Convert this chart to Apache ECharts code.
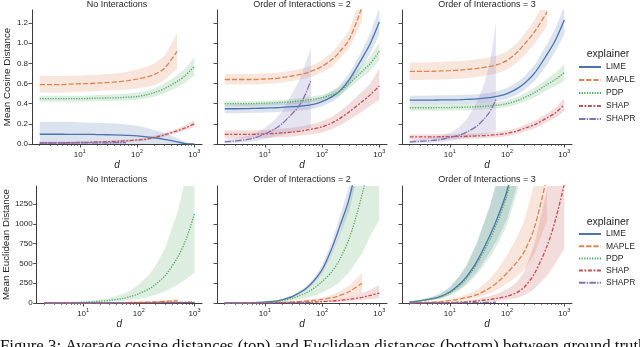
<!DOCTYPE html>
<html><head><meta charset="utf-8">
<script src="https://cdn.jsdelivr.net/npm/echarts@6/dist/echarts.min.js"></script>
<style>html,body{margin:0;padding:0;background:#fff}#c{width:640px;height:347px}</style>
</head><body><div id="c"></div>
<script>
// ---------- data ----------
const explainers = ['LIME', 'MAPLE', 'PDP', 'SHAP', 'SHAPR'];
const panelTitles = ['No Interactions', 'Order of Interactions = 2', 'Order of Interactions = 3'];
const dFull  = [2, 3, 5, 7, 10, 15, 20, 30, 50, 70, 100, 150, 200, 300, 500, 700, 1000];
const dMaple = [2, 3, 5, 7, 10, 15, 20, 30, 50, 70, 100, 150, 200, 300, 500];
const dShapr = [2, 3, 5, 7, 10, 15, 20, 30, 40, 50, 64];
const xMajorTicks = [10, 100, 1000];
const xMinorTicks = [2,3,4,5,6,7,8,9,20,30,40,50,60,70,80,90,200,300,400,500,600,700,800,900];
const cosTicks = [0, 0.2, 0.4, 0.6, 0.8, 1.0, 1.2];
const eucTicks = [0, 250, 500, 750, 1000, 1250];

// Cosine, No Interactions
const c1_LIME    = [0.097,0.097,0.097,0.096,0.096,0.095,0.094,0.092,0.088,0.085,0.08,0.071,0.062,0.046,0.022,0.004,0.0];
const c1_LIME_lo = [0,0,0,0,0,0,0,0,0,0,0,0,0,0,0,0,0];
const c1_LIME_hi = [0.22,0.22,0.22,0.22,0.215,0.21,0.21,0.205,0.2,0.19,0.18,0.16,0.14,0.11,0.06,0.02,0.0];
const c1_MAPLE    = [0.59,0.59,0.59,0.595,0.598,0.6,0.605,0.61,0.62,0.63,0.645,0.665,0.69,0.75,0.92];
const c1_MAPLE_lo = [0.51,0.51,0.51,0.515,0.518,0.52,0.525,0.53,0.535,0.54,0.55,0.565,0.58,0.63,0.75];
const c1_MAPLE_hi = [0.675,0.675,0.675,0.68,0.68,0.685,0.69,0.695,0.705,0.72,0.74,0.77,0.8,0.87,1.1];
const c1_PDP    = [0.45,0.45,0.45,0.45,0.45,0.452,0.455,0.457,0.46,0.465,0.47,0.49,0.51,0.55,0.62,0.68,0.77];
const c1_PDP_lo = [0.42,0.42,0.42,0.42,0.42,0.422,0.424,0.427,0.43,0.435,0.44,0.455,0.47,0.5,0.56,0.61,0.68];
const c1_PDP_hi = [0.48,0.48,0.48,0.48,0.48,0.482,0.486,0.49,0.495,0.5,0.51,0.525,0.55,0.6,0.68,0.75,0.86];
const c1_SHAP    = [0.01,0.01,0.012,0.013,0.015,0.017,0.02,0.023,0.028,0.033,0.04,0.05,0.065,0.09,0.13,0.16,0.2];
const c1_SHAP_lo = [0.002,0.002,0.004,0.005,0.006,0.008,0.01,0.013,0.017,0.021,0.027,0.036,0.049,0.072,0.108,0.135,0.17];
const c1_SHAP_hi = [0.018,0.018,0.02,0.021,0.024,0.026,0.03,0.033,0.039,0.045,0.053,0.064,0.081,0.108,0.152,0.185,0.235];
const c1_SHAPR    = [0.01,0.01,0.01,0.01,0.011,0.011,0.012,0.012,0.013,0.013,0.014];
const c1_SHAPR_lo = [0,0,0,0,0,0,0,0,0,0,0];
const c1_SHAPR_hi = [0.025,0.025,0.025,0.025,0.026,0.026,0.027,0.027,0.028,0.028,0.03];

// Cosine, Order 2
const c2_LIME    = [0.35,0.35,0.352,0.354,0.356,0.36,0.364,0.37,0.38,0.393,0.42,0.47,0.52,0.64,0.85,1.0,1.21];
const c2_LIME_lo = [0.305,0.305,0.307,0.31,0.312,0.316,0.32,0.326,0.336,0.35,0.375,0.42,0.47,0.58,0.77,0.9,1.09];
const c2_LIME_hi = [0.395,0.395,0.397,0.4,0.402,0.406,0.41,0.416,0.426,0.44,0.467,0.52,0.575,0.7,0.93,1.1,1.35];
const c2_MAPLE    = [0.64,0.64,0.64,0.64,0.645,0.65,0.66,0.675,0.7,0.73,0.77,0.84,0.91,1.04,1.36];
const c2_MAPLE_lo = [0.59,0.59,0.59,0.59,0.595,0.6,0.61,0.625,0.65,0.675,0.71,0.77,0.84,0.95,1.22];
const c2_MAPLE_hi = [0.695,0.695,0.695,0.695,0.7,0.705,0.715,0.73,0.755,0.785,0.83,0.91,0.99,1.13,1.5];
const c2_PDP    = [0.4,0.4,0.4,0.402,0.405,0.41,0.413,0.42,0.435,0.445,0.46,0.49,0.52,0.6,0.72,0.8,0.92];
const c2_PDP_lo = [0.375,0.375,0.375,0.377,0.38,0.385,0.388,0.394,0.408,0.417,0.43,0.455,0.483,0.55,0.66,0.73,0.83];
const c2_PDP_hi = [0.425,0.425,0.425,0.427,0.43,0.435,0.438,0.446,0.462,0.473,0.49,0.525,0.56,0.65,0.78,0.87,1.01];
const c2_SHAP    = [0.095,0.095,0.096,0.097,0.1,0.105,0.11,0.118,0.135,0.15,0.17,0.21,0.25,0.32,0.42,0.49,0.575];
const c2_SHAP_lo = [0.055,0.055,0.056,0.057,0.06,0.064,0.068,0.075,0.09,0.1,0.115,0.15,0.18,0.24,0.32,0.38,0.44];
const c2_SHAP_hi = [0.135,0.135,0.136,0.137,0.14,0.146,0.152,0.162,0.18,0.2,0.225,0.27,0.32,0.4,0.52,0.6,0.75];
const c2_SHAPR    = [0.022,0.03,0.045,0.065,0.1,0.15,0.2,0.3,0.38,0.48,0.63];
const c2_SHAPR_lo = [0.005,0.01,0.02,0.03,0.05,0.075,0.09,0.12,0.14,0.15,0.16];
const c2_SHAPR_hi = [0.04,0.055,0.08,0.11,0.16,0.24,0.32,0.5,0.63,0.78,0.95];

// Cosine, Order 3
const c3_LIME    = [0.435,0.435,0.436,0.437,0.438,0.44,0.443,0.448,0.46,0.475,0.5,0.55,0.6,0.7,0.89,1.03,1.23];
const c3_LIME_lo = [0.39,0.39,0.39,0.392,0.393,0.395,0.398,0.403,0.413,0.427,0.45,0.49,0.535,0.62,0.79,0.92,1.09];
const c3_LIME_hi = [0.48,0.48,0.482,0.483,0.484,0.486,0.49,0.495,0.508,0.525,0.555,0.61,0.67,0.78,0.99,1.15,1.37];
const c3_MAPLE    = [0.72,0.72,0.722,0.725,0.728,0.733,0.74,0.75,0.77,0.79,0.83,0.91,0.99,1.11,1.31];
const c3_MAPLE_lo = [0.635,0.635,0.637,0.64,0.643,0.648,0.655,0.665,0.685,0.705,0.74,0.81,0.88,0.99,1.17];
const c3_MAPLE_hi = [0.81,0.81,0.812,0.815,0.818,0.823,0.83,0.84,0.86,0.88,0.92,1.0,1.09,1.23,1.45];
const c3_PDP    = [0.36,0.36,0.36,0.361,0.362,0.364,0.366,0.37,0.378,0.386,0.4,0.43,0.46,0.51,0.59,0.64,0.71];
const c3_PDP_lo = [0.33,0.33,0.33,0.331,0.332,0.334,0.336,0.34,0.347,0.355,0.368,0.395,0.42,0.465,0.535,0.575,0.625];
const c3_PDP_hi = [0.39,0.39,0.39,0.391,0.392,0.394,0.396,0.4,0.41,0.418,0.433,0.465,0.5,0.555,0.645,0.705,0.795];
const c3_SHAP    = [0.07,0.07,0.071,0.072,0.073,0.075,0.077,0.08,0.087,0.094,0.105,0.13,0.155,0.19,0.26,0.31,0.39];
const c3_SHAP_lo = [0.045,0.045,0.046,0.047,0.048,0.05,0.052,0.055,0.061,0.067,0.077,0.1,0.122,0.155,0.215,0.26,0.325];
const c3_SHAP_hi = [0.095,0.095,0.096,0.097,0.098,0.1,0.102,0.105,0.113,0.121,0.133,0.16,0.188,0.225,0.305,0.36,0.455];
const c3_SHAPR    = [0.022,0.027,0.035,0.045,0.065,0.09,0.12,0.18,0.25,0.32,0.44];
const c3_SHAPR_lo = [0.005,0.008,0.012,0.02,0.03,0.045,0.06,0.08,0.1,0.11,0.13];
const c3_SHAPR_hi = [0.04,0.05,0.065,0.08,0.11,0.17,0.25,0.42,0.6,0.8,1.2];

// Euclidean, No Interactions
const e1_LIME    = [0.1,0.15,0.2,0.3,0.4,0.5,0.6,0.8,1,1.2,1.5,1.8,2,2.5,3,3.5,4];
const e1_LIME_lo = [0.05,0.07,0.1,0.15,0.2,0.25,0.3,0.4,0.5,0.6,0.7,0.9,1,1.2,1.5,1.7,2];
const e1_LIME_hi = [0.2,0.3,0.4,0.6,0.8,1,1.2,1.6,2,2.4,3,3.6,4,5,6,7,8];
const e1_MAPLE    = [0.2,0.3,0.5,0.7,1,1.5,2,3,4.5,6,8,11,14,20,28];
const e1_MAPLE_lo = [0.1,0.15,0.25,0.35,0.5,0.8,1,1.5,2.2,3,4,5.5,7,10,14];
const e1_MAPLE_hi = [0.4,0.6,1,1.4,2,3,4,6,9,12,16,22,28,38,55];
const e1_PDP    = [1.5,2.5,4.5,6.5,10,16,22,33,56,80,118,175,235,350,580,800,1130];
const e1_PDP_lo = [0.8,1.3,2.3,3.3,5,8,11,16,27,38,55,80,105,150,230,300,380];
const e1_PDP_hi = [3,5,9,13,20,31,43,65,110,158,235,350,470,700,1160,1600,2300];
const e1_SHAP    = [0.1,0.15,0.25,0.35,0.5,0.7,0.9,1.3,2,2.7,3.5,4.8,5.8,7,8.5,9.5,11];
const e1_SHAP_lo = [0.07,0.1,0.17,0.25,0.35,0.5,0.6,0.9,1.4,1.9,2.5,3.4,4,5,6,6.6,7.7];
const e1_SHAP_hi = [0.14,0.21,0.35,0.5,0.7,1,1.3,1.8,2.8,3.8,4.9,6.7,8.1,9.8,12,13.3,15.4];
const e1_SHAPR    = [0.05,0.07,0.1,0.14,0.2,0.3,0.4,0.6,0.8,1,1.2];
const e1_SHAPR_lo = [0.02,0.03,0.05,0.07,0.1,0.15,0.2,0.3,0.4,0.5,0.6];
const e1_SHAPR_hi = [0.1,0.14,0.2,0.28,0.4,0.6,0.8,1.2,1.6,2,2.4];

// Euclidean, Order 2
const e2_LIME    = [1,2,4,7,12,22,40,80,170,270,420,700,950,1330,2100,2900,4000];
const e2_LIME_lo = [0.8,1.7,3.4,6,10.5,19,35,70,150,238,370,615,835,1170,1850,2550,3500];
const e2_LIME_hi = [1.2,2.3,4.6,8,13.5,25,45,90,190,302,470,785,1065,1490,2350,3250,4500];
const e2_MAPLE    = [0.5,0.8,1.5,2.2,3.5,6,9,14,24,33,45,68,92,145,250];
const e2_MAPLE_lo = [0.25,0.4,0.75,1.1,1.8,3,4.5,7,12,17,23,35,47,74,126];
const e2_MAPLE_hi = [0.8,1.3,2.4,3.5,5.6,9.5,14,22,37,51,70,105,142,222,380];
const e2_PDP    = [1,2,3.5,5.5,10,18,30,60,120,180,270,400,540,820,1370,1900,2700];
const e2_PDP_lo = [0.5,1,1.8,2.8,5,9,15,30,60,88,130,195,260,390,630,850,1050];
const e2_PDP_hi = [1.6,3.2,5.6,8.8,16,29,48,96,192,288,430,640,865,1310,2190,3040,4320];
const e2_SHAP    = [0.3,0.5,0.8,1.2,1.8,2.8,3.8,5.5,9,12,17,25,32,46,72,95,125];
const e2_SHAP_lo = [0.15,0.25,0.4,0.6,0.9,1.4,1.9,2.8,4.5,6,8.5,12.5,16,23,37,49,63];
const e2_SHAP_hi = [0.5,0.8,1.3,1.9,2.9,4.5,6.1,8.8,14.5,19.5,28,41,53,77,125,168,227];
const e2_SHAPR    = [0.1,0.15,0.25,0.35,0.5,0.75,1,1.5,2,2.5,3];
const e2_SHAPR_lo = [0.05,0.07,0.12,0.17,0.25,0.37,0.5,0.75,1,1.2,1.5];
const e2_SHAPR_hi = [0.2,0.3,0.5,0.7,1,1.5,2,3,4,5,6];

// Euclidean, Order 3
const e3_LIME    = [15,28,55,85,140,240,340,530,850,1100,1420,2000,2600,3700,5800,7800,11000];
const e3_LIME_lo = [11,21,41,64,105,180,255,400,640,825,1065,1500,1950,2775,4350,5850,8250];
const e3_LIME_hi = [22,41,80,123,203,348,493,770,1230,1600,2060,2900,3770,5370,8400,11300,16000];
const e3_MAPLE    = [3,5,10,17,30,50,70,105,190,270,380,520,650,950,1600];
const e3_MAPLE_lo = [2,3.3,6.5,11,19.5,32.5,45.5,68,123,175,247,338,422,617,1040];
const e3_MAPLE_hi = [4.8,8,16,27,48,80,112,168,304,432,608,832,1040,1520,2560];
const e3_PDP    = [13,25,50,78,130,225,320,500,800,1050,1370,1950,2500,3600,5600,7500,10500];
const e3_PDP_lo = [9,18,36,56,94,162,230,360,575,755,985,1400,1800,2590,4030,5400,7560];
const e3_PDP_hi = [20,38,76,118,197,340,485,760,1215,1600,2080,2960,3800,5470,8500,11400,16000];
const e3_SHAP    = [0.5,1,2,3.5,6,11,16,26,45,62,85,135,200,370,720,1050,1500];
const e3_SHAP_lo = [0.25,0.5,1,1.7,2.9,5.3,7.7,12.5,21.5,30,41,65,96,178,346,500,690];
const e3_SHAP_hi = [1,2,4,7,12,22,32,52,90,124,170,270,400,740,1440,2100,3000];
const e3_SHAPR    = [0.3,0.5,0.8,1.2,1.8,2.7,3.6,5,6.5,8,10];
const e3_SHAPR_lo = [0.15,0.25,0.4,0.6,0.9,1.3,1.8,2.5,3.2,4,5];
const e3_SHAPR_hi = [0.6,1,1.6,2.4,3.6,5.4,7.2,10,13,16,20];

// ---------- styling ----------
const colors = {LIME:'#4c72b0', MAPLE:'#dd8452', PDP:'#55a868', SHAP:'#c44e52', SHAPR:'#8172b3'};
const bandColors = {LIME:'rgba(76,114,176,0.2)', MAPLE:'rgba(221,132,82,0.2)', PDP:'rgba(85,168,104,0.2)', SHAP:'rgba(196,78,82,0.2)', SHAPR:'rgba(129,114,179,0.2)'};
const LW = 1.3;
const dashes = {LIME:'solid', MAPLE:[5.2,2], PDP:[1.3,1.3], SHAP:[3.9,1.6,1.9,1.6], SHAPR:[6.5,1.3,1.3,1.3]};
const xsFor = {LIME:dFull, MAPLE:dMaple, PDP:dFull, SHAP:dFull, SHAPR:dShapr};
const FONT = 'Liberation Sans';
const TXT = '#262626';
const AX = '#3c3c3c';

const panels = [
  {LIME:[c1_LIME,c1_LIME_lo,c1_LIME_hi], MAPLE:[c1_MAPLE,c1_MAPLE_lo,c1_MAPLE_hi], PDP:[c1_PDP,c1_PDP_lo,c1_PDP_hi], SHAP:[c1_SHAP,c1_SHAP_lo,c1_SHAP_hi], SHAPR:[c1_SHAPR,c1_SHAPR_lo,c1_SHAPR_hi]},
  {LIME:[c2_LIME,c2_LIME_lo,c2_LIME_hi], MAPLE:[c2_MAPLE,c2_MAPLE_lo,c2_MAPLE_hi], PDP:[c2_PDP,c2_PDP_lo,c2_PDP_hi], SHAP:[c2_SHAP,c2_SHAP_lo,c2_SHAP_hi], SHAPR:[c2_SHAPR,c2_SHAPR_lo,c2_SHAPR_hi]},
  {LIME:[c3_LIME,c3_LIME_lo,c3_LIME_hi], MAPLE:[c3_MAPLE,c3_MAPLE_lo,c3_MAPLE_hi], PDP:[c3_PDP,c3_PDP_lo,c3_PDP_hi], SHAP:[c3_SHAP,c3_SHAP_lo,c3_SHAP_hi], SHAPR:[c3_SHAPR,c3_SHAPR_lo,c3_SHAPR_hi]},
  {LIME:[e1_LIME,e1_LIME_lo,e1_LIME_hi], MAPLE:[e1_MAPLE,e1_MAPLE_lo,e1_MAPLE_hi], PDP:[e1_PDP,e1_PDP_lo,e1_PDP_hi], SHAP:[e1_SHAP,e1_SHAP_lo,e1_SHAP_hi], SHAPR:[e1_SHAPR,e1_SHAPR_lo,e1_SHAPR_hi]},
  {LIME:[e2_LIME,e2_LIME_lo,e2_LIME_hi], MAPLE:[e2_MAPLE,e2_MAPLE_lo,e2_MAPLE_hi], PDP:[e2_PDP,e2_PDP_lo,e2_PDP_hi], SHAP:[e2_SHAP,e2_SHAP_lo,e2_SHAP_hi], SHAPR:[e2_SHAPR,e2_SHAPR_lo,e2_SHAPR_hi]},
  {LIME:[e3_LIME,e3_LIME_lo,e3_LIME_hi], MAPLE:[e3_MAPLE,e3_MAPLE_lo,e3_MAPLE_hi], PDP:[e3_PDP,e3_PDP_lo,e3_PDP_hi], SHAP:[e3_SHAP,e3_SHAP_lo,e3_SHAP_hi], SHAPR:[e3_SHAPR,e3_SHAPR_lo,e3_SHAPR_hi]}
];

const GL = [32, 217, 402], GW = 170;
const ROWS = [{top:10, height:134, max:1.33, ticks:cosTicks, name:'Mean Cosine Distance', fmt:v=>v.toFixed(1)},
              {top:186, height:117, max:1480, ticks:eucTicks, name:'Mean Euclidean Distance', fmt:v=>String(v)}];
const XMIN = 1.466, XMAX = 1364;

const grid = [], xAxis = [], yAxis = [], series = [];
const axisLineStyle = {color: AX, width: 1};

function bandSeries(p, ex, xs, lo, hi) {
  return {
    type:'custom', xAxisIndex:2*p, yAxisIndex:p, clip:true, silent:true, z:1,
    data: xs.map((x,i)=>[x, lo[i], hi[i]]),
    encode:{x:0, y:[1,2]},
    renderItem:(params, api) => {
      if (params.dataIndex !== 0) return null;
      const top = xs.map((x,i)=>api.coord([x, hi[i]]));
      const bot = xs.map((x,i)=>api.coord([x, lo[i]])).reverse();
      return {type:'polygon', shape:{points: top.concat(bot)}, style:{fill: bandColors[ex]}};
    }
  };
}

for (let p = 0; p < 6; p++) {
  const r = Math.floor(p / 3), c = p % 3, row = ROWS[r];
  grid.push({left: GL[c], width: GW, top: row.top, height: row.height});
  xAxis.push({
    type:'log', logBase:10, gridIndex:p, min:XMIN, max:XMAX, position:'bottom',
    axisLine:{show:true, onZero:false, lineStyle:axisLineStyle},
    axisTick:{show:true, customValues:xMajorTicks, length:3.5, lineStyle:{color:AX, width:0.9}},
    axisLabel:{customValues:xMajorTicks, margin:4, color:TXT,
      formatter: v => '{a|10}{b|' + Math.round(Math.log10(v)) + '}',
      rich:{a:{fontSize:8, fontFamily:FONT, color:TXT, lineHeight:11, verticalAlign:'bottom'},
            b:{fontSize:5.5, fontFamily:FONT, color:TXT, lineHeight:11, verticalAlign:'top'}}},
    splitLine:{show:false}, minorTick:{show:false},
    name:'d', nameLocation:'middle', nameGap: r === 0 ? 15 : 16,
    nameTextStyle:{fontStyle:'italic', fontSize:10, fontFamily:FONT, color:TXT}
  });
  xAxis.push({
    type:'log', logBase:10, gridIndex:p, min:XMIN, max:XMAX, position:'bottom',
    axisLine:{show:false, onZero:false},
    axisTick:{show:true, customValues:xMinorTicks, length:2, lineStyle:{color:AX, width:0.7}},
    axisLabel:{show:false}, splitLine:{show:false}
  });
  yAxis.push({
    type:'value', gridIndex:p, min:0, max:row.max,
    axisLine:{show:true, onZero:false, lineStyle:axisLineStyle},
    axisTick:{show:true, customValues:row.ticks, length:3.5, lineStyle:{color:AX, width:0.9}},
    axisLabel:{show: c === 0, customValues:row.ticks, formatter:row.fmt, fontSize:8, fontFamily:FONT, color:TXT, margin:4},
    splitLine:{show:false},
    name: c === 0 ? row.name : '', nameLocation:'middle', nameGap: r === 0 ? 20 : 24,
    nameTextStyle:{fontSize:9.8, fontFamily:FONT, color:TXT}
  });
  explainers.forEach(ex => {
    const [m, lo, hi] = panels[p][ex];
    series.push(bandSeries(p, ex, xsFor[ex], lo, hi));
  });
  explainers.forEach(ex => {
    const xs = xsFor[ex];
    const m = panels[p][ex][0];
    series.push({type:'line', name: ex, xAxisIndex:2*p, yAxisIndex:p, symbol:'none', smooth:0.3, silent:true,
      color: colors[ex], lineStyle:{color:colors[ex], width:LW, type:dashes[ex]},
      data: xs.map((x,i)=>[x, m[i]]), z:3});
  });
}

const legendBase = {orient:'vertical', left:578, padding:0, itemWidth:22, itemHeight:8, data: explainers, selectedMode:false,
  itemStyle:{opacity:0}, textStyle:{fontSize:8.5, fontFamily:FONT, color:TXT}};
const legend = [Object.assign({}, legendBase, {top:62.5, itemGap:4}),
                Object.assign({}, legendBase, {top:229.5, itemGap:3.2})];

const graphic = [];
for (let p = 0; p < 6; p++) {
  const r = Math.floor(p / 3), c = p % 3;
  graphic.push({type:'text', x: GL[c] + GW/2, y: r === 0 ? 5 : 180,
    style:{text: panelTitles[c], align:'center', verticalAlign:'middle', fontSize:9, fontFamily:FONT, fill:TXT}});
}
graphic.push({type:'text', x:608, y:54, style:{text:'explainer', align:'center', verticalAlign:'middle', fontSize:10.5, fontFamily:FONT, fill:TXT}});
graphic.push({type:'text', x:608, y:222, style:{text:'explainer', align:'center', verticalAlign:'middle', fontSize:10.5, fontFamily:FONT, fill:TXT}});
graphic.push({type:'text', x:0, y:355, style:{text:'Figure 3: Average cosine distances (top) and Euclidean distances (bottom) between ground truth',
  align:'left', verticalAlign:'bottom', fontSize:16.8, fontFamily:'Liberation Serif', fill:'#111'}});

const chart = echarts.init(document.getElementById('c'), null, {renderer:'canvas'});
chart.setOption({animation:false, backgroundColor:'#fff', grid, xAxis, yAxis, series, legend, graphic});
</script></body></html>
